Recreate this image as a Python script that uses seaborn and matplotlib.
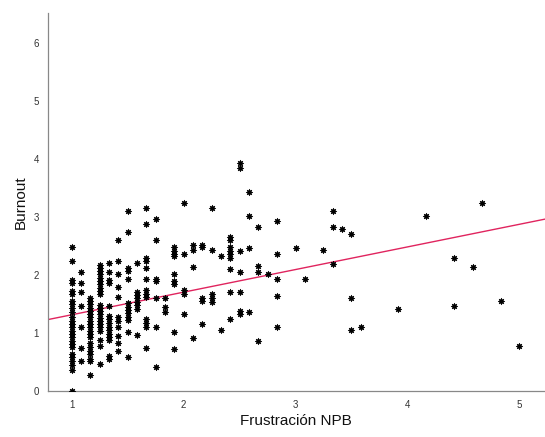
import matplotlib
matplotlib.use("Agg")
import matplotlib.pyplot as plt
import seaborn as sns
import pandas as pd

# x values (Frustración NPB) per column and the Burnout values in that column
col_x = [1.0, 1.0833, 1.1667, 1.25, 1.3333, 1.4167, 1.5, 1.5833, 1.6667, 1.75,
         1.8333, 1.9167, 2.0, 2.0833, 2.1667, 2.25, 2.3333, 2.4167, 2.5, 2.5833,
         2.6667, 2.75, 2.8333, 3.0, 3.0833, 3.25, 3.3333, 3.4167, 3.5, 3.5833,
         3.9167, 4.1667, 4.4167, 4.5833, 4.6667, 4.8333, 5.0]
col_y = [
    [2.48, 2.24, 1.91, 1.87, 1.73, 1.68, 1.56, 1.50, 1.44, 1.37, 1.28, 1.21, 1.16,
     1.10, 1.04, 0.98, 0.93, 0.87, 0.81, 0.76, 0.64, 0.58, 0.51, 0.45, 0.37, 0.0],
    [2.06, 1.87, 1.70, 1.47, 1.10, 0.74, 0.51],
    [1.61, 1.56, 1.50, 1.44, 1.38, 1.33, 1.27, 1.21, 1.16, 1.10, 1.04, 0.98, 0.93,
     0.82, 0.76, 0.69, 0.64, 0.56, 0.51, 0.28],
    [2.17, 2.13, 2.07, 2.01, 1.95, 1.90, 1.84, 1.78, 1.72, 1.68, 1.48, 1.44, 1.38,
     1.32, 1.26, 1.21, 1.16, 1.10, 1.04, 0.88, 0.78, 0.46],
    [2.20, 2.05, 1.91, 1.86, 1.47, 1.29, 1.24, 1.18, 1.11, 1.05, 0.99, 0.94, 0.88,
     0.60, 0.55],
    [2.60, 2.24, 2.01, 1.79, 1.63, 1.27, 1.21, 1.11, 0.95, 0.82, 0.69],
    [3.11, 2.75, 2.12, 2.07, 1.93, 1.51, 1.45, 1.40, 1.34, 1.28, 1.22, 1.01, 0.59],
    [2.20, 1.71, 1.66, 1.60, 1.54, 1.48, 1.42, 0.97],
    [3.15, 2.88, 2.29, 2.24, 2.12, 1.93, 1.74, 1.68, 1.63, 1.24, 1.18, 1.11, 0.74],
    [2.97, 2.60, 1.93, 1.89, 1.60, 1.10, 0.41],
    [1.60, 1.45, 1.37],
    [2.48, 2.41, 2.37, 2.33, 2.01, 1.89, 1.84, 1.01, 0.72],
    [3.25, 2.37, 1.75, 1.68, 1.33],
    [2.52, 2.43, 2.14, 0.92],
    [2.52, 2.48, 1.61, 1.55, 1.15],
    [3.15, 2.43, 1.67, 1.60, 1.54],
    [2.33, 1.05],
    [2.65, 2.60, 2.48, 2.42, 2.37, 2.29, 2.10, 1.70, 1.24],
    [3.94, 3.84, 2.42, 2.06, 1.70, 1.38, 1.33],
    [3.44, 3.02, 2.47, 1.37],
    [2.83, 2.16, 2.06, 0.87],
    [2.01],
    [2.93, 2.37, 1.93, 1.64, 1.10],
    [2.47],
    [1.93],
    [2.43],
    [3.11, 2.83, 2.19],
    [2.79],
    [2.70, 1.60, 1.05],
    [1.10],
    [1.41],
    [3.02],
    [2.29, 1.47],
    [2.14],
    [3.25],
    [1.55],
    [0.78],
]

# fit line
fit_intercept = 0.925
fit_slope = 0.39

x_label = "Frustración NPB"
y_label = "Burnout"
x_ticks = [1, 2, 3, 4, 5]
y_ticks = [0, 1, 2, 3, 4, 5, 6]

rows = [(x, y) for x, ys in zip(col_x, col_y) for y in ys]
df = pd.DataFrame(rows, columns=[x_label, y_label])

sns.set_theme(style="white")
plt.rcParams['font.family'] = ['Liberation Sans', 'DejaVu Sans']

fig = plt.figure(figsize=(5.45, 4.37), dpi=100)
ax = fig.add_axes([47.5 / 545, 46 / 437, (545 - 47.5) / 545, (391 - 13) / 437])

sns.scatterplot(data=df, x=x_label, y=y_label, ax=ax, marker=(8, 1, 0),
                s=22, color="black", edgecolor="black", linewidth=0.5, zorder=3)
ax.axline((0, fit_intercept), slope=fit_slope, color="#e0245e", lw=1.0, zorder=2)

ax.set_xlim(0.783, 5.23)
ax.set_ylim(0, 6.52)
ax.set_xticks(x_ticks)
ax.set_yticks(y_ticks)
ax.set_xticklabels([str(t) for t in x_ticks], fontsize=7, color="#333333")
ax.set_yticklabels([str(t) for t in y_ticks], fontsize=7, color="#333333")
ax.tick_params(axis="both", length=0)
ax.tick_params(axis="x", pad=6.5)
ax.tick_params(axis="y", pad=6)
ax.set_xlabel(x_label, fontsize=11, color="#111111", labelpad=3)
ax.set_ylabel(y_label, fontsize=11, color="#111111", labelpad=4)
for side in ["top", "right"]:
    ax.spines[side].set_visible(False)
for side in ["left", "bottom"]:
    ax.spines[side].set_color("#888888")
    ax.spines[side].set_linewidth(0.9)

fig.savefig("out.png", dpi=100)
